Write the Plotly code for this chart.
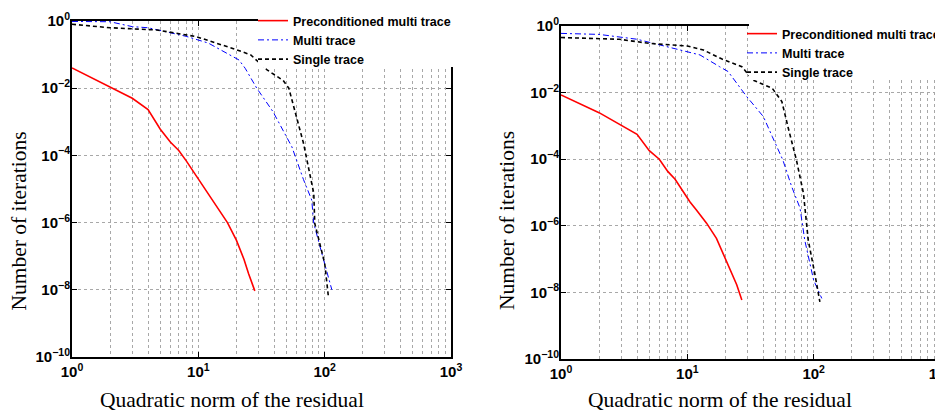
import plotly.graph_objects as go

# ---- data ----
# Left panel
left_pre_x = [1, 2, 3, 4, 5, 6, 7, 8, 10, 12, 14, 17, 20, 23, 25, 28]
left_pre_y = [0.04, 0.011, 5e-3, 2.3e-3, 6e-4, 2.5e-4, 1.4e-4, 7e-5, 2e-5, 7e-6, 2.8e-6, 1e-6, 3e-7, 8e-8, 3e-8, 9.3e-9]

left_multi_x = [1, 2, 3, 4, 8, 12, 21, 23.5, 29, 39, 55, 68, 79, 82, 98, 114]
left_multi_y = [0.97, 0.95, 0.68, 0.63, 0.35, 0.22, 0.069, 0.039, 1e-2, 2e-3, 1.8e-4, 1.9e-5, 4.7e-6, 9.5e-7, 7.8e-8, 1e-8]

left_single_x = [1, 2, 4.7, 9.7, 20, 26, 35, 47, 52, 56, 68, 82, 83.5, 100, 107]
left_single_y = [0.8, 0.63, 0.54, 0.34, 0.14, 0.098, 0.035, 0.017, 1e-2, 3.5e-3, 2.3e-4, 7.4e-6, 9.5e-7, 6.2e-8, 6.3e-9]

# Right panel
right_pre_x = [1, 2, 4, 5, 6, 7, 8, 10.5, 11.8, 14.2, 17, 20.5, 24.6, 27]
right_pre_y = [8.5e-3, 2.5e-3, 5.6e-4, 1.8e-4, 1e-4, 4.3e-5, 2.5e-5, 5.2e-6, 3e-6, 1.2e-6, 4.2e-7, 8.3e-8, 1.7e-8, 5.9e-9]

right_multi_x = [1, 2, 4, 5.7, 10, 12.6, 18, 21, 29.5, 40, 47, 57, 67, 78, 85, 100, 116]
right_multi_y = [0.6, 0.56, 0.4, 0.29, 0.17, 0.135, 0.06, 0.043, 7.6e-3, 1.9e-3, 4.8e-4, 9.5e-5, 1.5e-5, 3.4e-6, 3.7e-7, 2.3e-8, 6.6e-9]

right_single_x = [1, 2.9, 5, 10, 13.4, 19, 27, 33, 47, 56, 63, 73, 83, 85, 90.6, 102, 112]
right_single_y = [0.45, 0.4, 0.3, 0.25, 0.19, 0.1, 0.06, 0.024, 0.0135, 5.4e-3, 8.5e-4, 9.5e-5, 9.5e-6, 3.7e-6, 3.7e-7, 3.7e-8, 5.2e-9]

series_names = ["Preconditioned multi trace", "Multi trace", "Single trace"]

x_tickvals = [1, 10, 100, 1000]
x_ticktext = ["10<sup>0</sup>", "10<sup>1</sup>", "10<sup>2</sup>", "10<sup>3</sup>"]
y_tickvals = [1, 1e-2, 1e-4, 1e-6, 1e-8, 1e-10]
y_ticktext = ["10<sup>0</sup>", "10<sup>\u22122</sup>", "10<sup>\u22124</sup>",
              "10<sup>\u22126</sup>", "10<sup>\u22128</sup>", "10<sup>\u221210</sup>"]
x_minor = [m * 10 ** k for k in range(3) for m in range(2, 10)]

x_title = "Quadratic norm of the residual"
y_title = "Number of iterations"

# page offset (body margin) compensation: design in window pixels
OFF = 8
W, H = 943 - OFF, 413 - OFF


def px(x):
    return (x - OFF) / W


def py(y):
    return 1 - (y - OFF) / H


fig = go.Figure()

styles = [dict(color="#ff0000", width=1.6, dash="solid"),
          dict(color="#0000ff", width=1, dash="6px,3px,2px,3px"),
          dict(color="#000000", width=1.6, dash="4px,3px")]

panels = [
    ("x", "y", "legend", [(left_pre_x, left_pre_y), (left_multi_x, left_multi_y), (left_single_x, left_single_y)]),
    ("x2", "y2", "legend2", [(right_pre_x, right_pre_y), (right_multi_x, right_multi_y), (right_single_x, right_single_y)]),
]
for xa, ya, lg, data in panels:
    for (xs, ys), name, st in zip(data, series_names, styles):
        fig.add_trace(go.Scatter(x=xs, y=ys, mode="lines", name=name, line=st,
                                 xaxis=xa, yaxis=ya, legend=lg))

tickfont = dict(family="Liberation Sans, Arial", size=15, color="black", weight="bold")
titlefont = dict(family="Liberation Serif, Times New Roman", size=21.5, color="black")
GRID = "#a8a8a8"
grid = dict(showgrid=True, gridcolor=GRID, griddash="dot", gridwidth=1)


def xaxis(domain, anchor):
    return dict(type="log", range=[0, 3], domain=domain, anchor=anchor, automargin=False,
                tickmode="array", tickvals=x_tickvals, ticktext=x_ticktext,
                tickfont=tickfont, ticks="inside", ticklen=5, tickcolor="black",
                ticklabeloverflow="allow",
                showline=True, linecolor="black", linewidth=2, mirror="ticks",
                minor=dict(tickmode="array", tickvals=x_minor, showgrid=True,
                           gridcolor=GRID, griddash="dot", gridwidth=1, ticks=""),
                zeroline=False, **grid)


def yaxis(domain, anchor):
    return dict(type="log", range=[-10, 0], domain=domain, anchor=anchor, automargin=False,
                tickmode="array", tickvals=y_tickvals, ticktext=y_ticktext,
                tickfont=tickfont, ticks="inside", ticklen=5, tickcolor="black",
                ticklabelstandoff=-3, ticklabeloverflow="allow",
                showline=True, linecolor="black", linewidth=2, mirror="ticks",
                zeroline=False, **grid)


legfont = dict(family="Liberation Sans, Arial", size=12.5, color="black", weight="bold")

# white boxes behind the legends (mask grid and frame like the reference)
legend_masks = [
    dict(type="rect", xref="paper", yref="paper", layer="above",
         x0=px(258), x1=px(458), y0=py(67), y1=py(10),
         fillcolor="white", line=dict(width=0)),
    dict(type="rect", xref="paper", yref="paper", layer="above",
         x0=px(749), x1=px(950), y0=py(80), y1=py(15),
         fillcolor="white", line=dict(width=0)),
]

title_pos = [  # (x-title centre x, y-title centre x) in window px
    (232, 18.5),
    (720, 507),
]
titles = []
for xt_x, yt_x in title_pos:
    titles.append(dict(text=x_title, xref="paper", yref="paper", x=px(xt_x), y=py(400),
                       xanchor="center", yanchor="middle", showarrow=False, font=titlefont))
    titles.append(dict(text=y_title, xref="paper", yref="paper", x=px(yt_x), y=py(221),
                       xanchor="center", yanchor="middle", showarrow=False, textangle=-90,
                       font=titlefont))

fig.update_layout(
    width=W, height=H,
    margin=dict(l=0, r=0, t=0, b=0, autoexpand=False),
    paper_bgcolor="white", plot_bgcolor="white",
    xaxis=xaxis([px(72), px(451)], "y"),
    yaxis=yaxis([py(357), py(21)], "x"),
    xaxis2=xaxis([px(561), px(940)], "y2"),
    yaxis2=yaxis([py(359), py(26)], "x2"),
    legend=dict(x=px(253), y=py(6), xanchor="left", yanchor="top",
                bgcolor="rgba(0,0,0,0)", borderwidth=0, tracegroupgap=0, font=legfont),
    legend2=dict(x=px(742), y=py(19), xanchor="left", yanchor="top",
                 bgcolor="rgba(0,0,0,0)", borderwidth=0, tracegroupgap=0, font=legfont),
    shapes=legend_masks,
    annotations=titles,
    showlegend=True,
)

fig.write_html("out.html")
